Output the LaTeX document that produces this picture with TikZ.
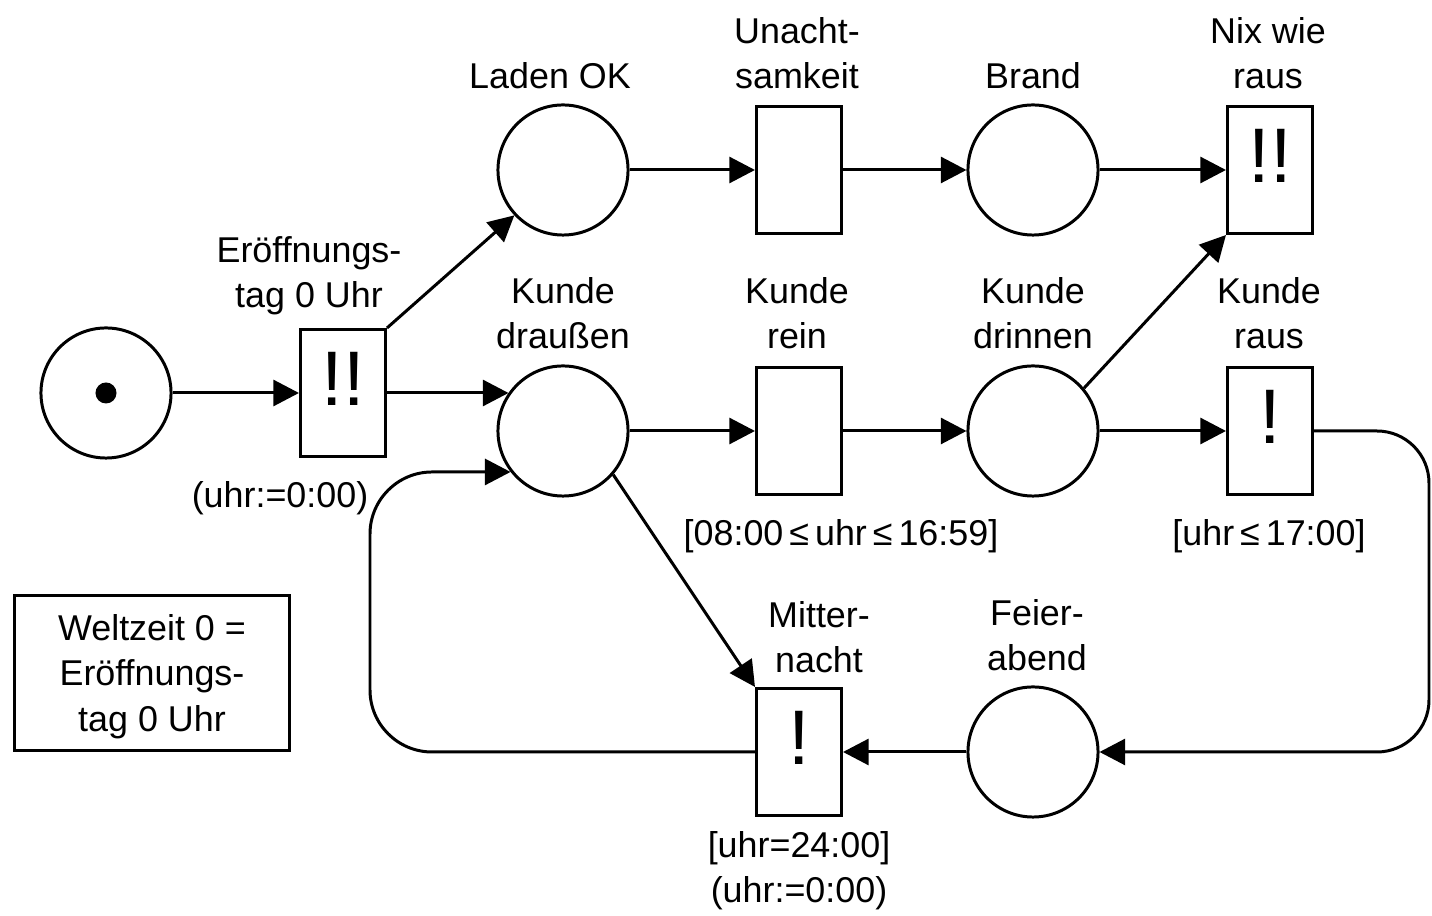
\documentclass[tikz,border=0pt]{standalone}
\usepackage{fontspec}
\setmainfont{Liberation Sans}
\usetikzlibrary{arrows.meta}

\newcommand{\lblsize}{\fontsize{10.2pt}{12.8pt}\selectfont}
\newcommand{\marksize}{\fontsize{22pt}{24pt}\selectfont}

\begin{document}
\begin{tikzpicture}[x=0.01cm, y=-0.01cm, line width=0.85pt,
  place/.style={draw, circle, minimum size=1.30cm, inner sep=0pt},
  transition/.style={draw, rectangle, minimum width=0.85cm, minimum height=1.27cm,
    inner sep=0pt, font=\marksize, text depth=8pt},
  lbl/.style={font=\lblsize, align=center, inner sep=0pt, anchor=base},
  flowarc/.style={-{Triangle[length=7.3pt, width=7.4pt]}},
]
  \useasboundingbox (0,0) rectangle (1432,916);

  % -- Start place with token --
  \node[place] (start) at (106,393) {};
  \fill (start.center) circle[radius=0.105cm];

  % -- Opening day transition --
  \node[transition] (open) at (343,393) {!!};
  \node[lbl] at (309,308) {Eröffnungs-\\tag 0 Uhr};
  \node[lbl] at (280,508) {(uhr:=0:00)};

  % -- Upper row --
  \node[place] (ladenok) at (563,170) {};
  \node[lbl] at (550,89) {Laden OK};
  \node[transition] (careless) at (799,170) {};
  \node[lbl] at (797,89) {Unacht-\\samkeit};
  \node[place] (fire) at (1033,170) {};
  \node[lbl] at (1033,89) {Brand};
  \node[transition] (escape) at (1270,170) {!!};
  \node[lbl] at (1268,89) {Nix wie\\raus};

  % -- Middle row --
  \node[place] (outside) at (563,431) {};
  \node[lbl] at (563,349) {Kunde\\draußen};
  \node[transition] (enter) at (799,431) {};
  \node[lbl] at (797,349) {Kunde\\rein};
  \node[lbl] at (841,546) {[08:00\,≤\,uhr\,≤\,16:59]};
  \node[place] (inside) at (1033,431) {};
  \node[lbl] at (1033,349) {Kunde\\drinnen};
  \node[transition] (leave) at (1270,431) {!};
  \node[lbl] at (1269,349) {Kunde\\raus};
  \node[lbl] at (1269,546) {[uhr\,≤\,17:00]};

  % -- Lower row --
  \node[transition] (midnight) at (799,752) {!};
  \node[lbl] at (819,673) {Mitter-\\nacht};
  \node[lbl] at (799,903) {[uhr=24:00]\\(uhr:=0:00)};
  \node[place] (closing) at (1033,752) {};
  \node[lbl] at (1037,671) {Feier-\\abend};

  % -- Note --
  \node[draw, font=\lblsize, align=center, minimum width=2.75cm, minimum height=1.55cm,
    inner sep=0pt, text depth=0pt] (worldtime) at (152,673) {Weltzeit 0 =\\Eröffnungs-\\tag 0 Uhr};

  % -- Arcs --
  \draw[flowarc] (start) -- (open);
  \draw[flowarc] (open.north east) -- (ladenok.223);
  \draw[flowarc] (open.east) -- (open.east -| outside.145);
  \draw[flowarc] (ladenok) -- (careless);
  \draw[flowarc] (careless) -- (fire);
  \draw[flowarc] (fire) -- (escape);
  \draw[flowarc] (outside) -- (enter);
  \draw[flowarc] (enter) -- (inside);
  \draw[flowarc] (inside) -- (leave);
  \draw[flowarc] (inside.40) -- (escape.south west);
  \draw[flowarc] (outside.-41) -- (midnight.north west);
  \draw[flowarc] (closing) -- (midnight);

  % return loops
  \coordinate (loopL) at (370,472);
  \coordinate (loopR) at (1429,600);
  \draw[flowarc, rounded corners=0.62cm] (midnight.west) -| (loopL) -- (outside.218);
  \draw[flowarc, rounded corners=0.52cm] (leave.east) -| (loopR) |- (closing.east);

\end{tikzpicture}
\end{document}
